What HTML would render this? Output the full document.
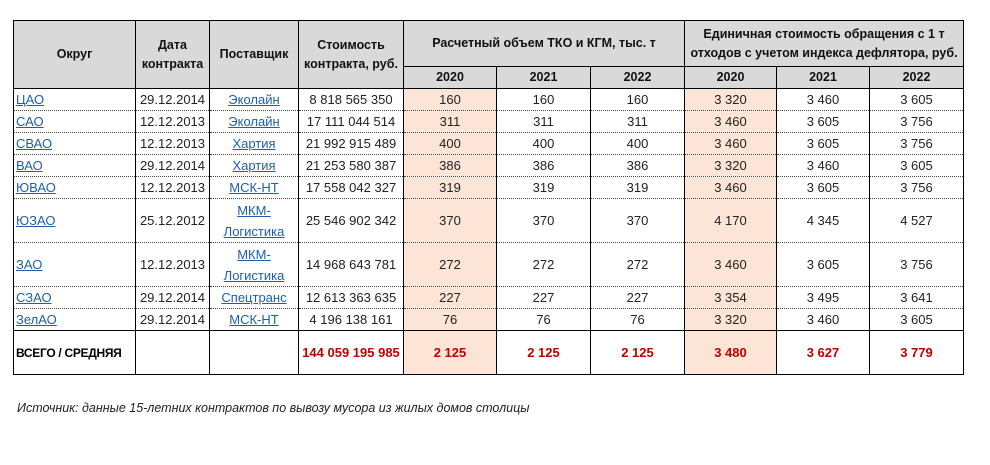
<!DOCTYPE html>
<html><head><meta charset="utf-8"><style>
body{margin:0;background:#fff;width:990px;height:465px;font-family:"Liberation Sans",Arial,sans-serif;}
table{position:absolute;left:13px;top:20px;border-collapse:collapse;table-layout:fixed;}
td,th{border:1px solid #000;padding:0;font-size:13px;text-align:center;color:#222;white-space:nowrap;overflow:hidden;}
th{background:#d9d9d9;font-weight:bold;font-size:12.5px;color:#111;line-height:19px;}
tbody td{border-top:1px dotted #444;border-bottom:1px dotted #444;height:21px;}
a{color:#1f5fa8;text-decoration:underline;}
td.l{text-align:left;padding-left:2px;}
.h{background:#fce4d6;}
tr.tot td{border:1px solid #000;height:43px;font-weight:bold;color:#c00000;}
tr.tot td.l{color:#000;font-size:12px;letter-spacing:-0.3px;}
tr.tall td{height:43px;line-height:21px;}
.note{position:absolute;left:17px;top:401px;font-size:12.5px;font-style:italic;color:#222;}
</style></head><body>
<table>
<colgroup><col style="width:122px"><col style="width:74px"><col style="width:89px"><col style="width:105px"><col style="width:93px"><col style="width:94px"><col style="width:94px"><col style="width:92px"><col style="width:93px"><col style="width:94px"></colgroup>
<tr style="height:46px"><th rowspan="2">Округ</th><th rowspan="2">Дата<br>контракта</th><th rowspan="2">Поставщик</th><th rowspan="2">Стоимость<br>контракта, руб.</th><th colspan="3">Расчетный объем ТКО и КГМ, тыс. т</th><th colspan="3">Единичная стоимость обращения с 1 т<br>отходов с учетом индекса дефлятора, руб.</th></tr>
<tr style="height:22px"><th>2020</th><th>2021</th><th>2022</th><th>2020</th><th>2021</th><th>2022</th></tr>
<tbody>
<tr><td class="l"><a>ЦАО</a></td><td>29.12.2014</td><td><a>Эколайн</a></td><td>8 818 565 350</td><td class="h">160</td><td>160</td><td>160</td><td class="h">3 320</td><td>3 460</td><td>3 605</td></tr>
<tr><td class="l"><a>САО</a></td><td>12.12.2013</td><td><a>Эколайн</a></td><td>17 111 044 514</td><td class="h">311</td><td>311</td><td>311</td><td class="h">3 460</td><td>3 605</td><td>3 756</td></tr>
<tr><td class="l"><a>СВАО</a></td><td>12.12.2013</td><td><a>Хартия</a></td><td>21 992 915 489</td><td class="h">400</td><td>400</td><td>400</td><td class="h">3 460</td><td>3 605</td><td>3 756</td></tr>
<tr><td class="l"><a>ВАО</a></td><td>29.12.2014</td><td><a>Хартия</a></td><td>21 253 580 387</td><td class="h">386</td><td>386</td><td>386</td><td class="h">3 320</td><td>3 460</td><td>3 605</td></tr>
<tr><td class="l"><a>ЮВАО</a></td><td>12.12.2013</td><td><a>МСК-НТ</a></td><td>17 558 042 327</td><td class="h">319</td><td>319</td><td>319</td><td class="h">3 460</td><td>3 605</td><td>3 756</td></tr>
<tr class="tall"><td class="l"><a>ЮЗАО</a></td><td>25.12.2012</td><td><a>МКМ-<br>Логистика</a></td><td>25 546 902 342</td><td class="h">370</td><td>370</td><td>370</td><td class="h">4 170</td><td>4 345</td><td>4 527</td></tr>
<tr class="tall"><td class="l"><a>ЗАО</a></td><td>12.12.2013</td><td><a>МКМ-<br>Логистика</a></td><td>14 968 643 781</td><td class="h">272</td><td>272</td><td>272</td><td class="h">3 460</td><td>3 605</td><td>3 756</td></tr>
<tr><td class="l"><a>СЗАО</a></td><td>29.12.2014</td><td><a>Спецтранс</a></td><td>12 613 363 635</td><td class="h">227</td><td>227</td><td>227</td><td class="h">3 354</td><td>3 495</td><td>3 641</td></tr>
<tr><td class="l"><a>ЗелАО</a></td><td>29.12.2014</td><td><a>МСК-НТ</a></td><td>4 196 138 161</td><td class="h">76</td><td>76</td><td>76</td><td class="h">3 320</td><td>3 460</td><td>3 605</td></tr>
<tr class="tot"><td class="l">ВСЕГО / СРЕДНЯЯ</td><td></td><td></td><td>144 059 195 985</td><td class="h">2 125</td><td>2 125</td><td>2 125</td><td class="h">3 480</td><td>3 627</td><td>3 779</td></tr>
</tbody></table>
<div class="note">Источник: данные 15-летних контрактов по вывозу мусора из жилых домов столицы</div>
</body></html>
